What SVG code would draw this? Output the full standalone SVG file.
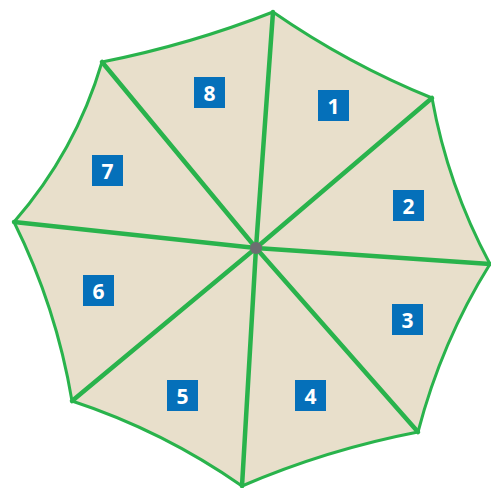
<svg xmlns="http://www.w3.org/2000/svg" width="491" height="488" viewBox="0 0 491 488">
<style>
.outline{fill:#e8dfcb;stroke:#29b34c;stroke-width:3;stroke-linejoin:miter}
.spoke{stroke:#29b34c;stroke-width:4.5;stroke-linecap:round;fill:none}
.box{fill:#0570ba}
.lbl{fill:#fff;font-family:"Open Sans","DejaVu Sans",sans-serif;font-weight:bold;font-size:21px;text-anchor:middle;dominant-baseline:central}
</style>
<g id="shape">
<path class="outline" d="M273,12 Q348,64 432,98 Q447.7,185.3 490,264 Q441.5,341.7 418,432 Q326.7,449.6 242,486 Q163.3,431 72,401 Q56.4,307.5 14,222 Q75.6,151.4 102,62 Q190,44.6 273,12 Z"/>
</g>
<g id="connectors">
<line class="spoke" x1="256" y1="248" x2="273" y2="12"/>
<line class="spoke" x1="256" y1="248" x2="432" y2="98"/>
<line class="spoke" x1="256" y1="248" x2="490" y2="264"/>
<line class="spoke" x1="256" y1="248" x2="418" y2="432"/>
<line class="spoke" x1="256" y1="248" x2="242" y2="486"/>
<line class="spoke" x1="256" y1="248" x2="72" y2="401"/>
<line class="spoke" x1="256" y1="248" x2="14" y2="222"/>
<line class="spoke" x1="256" y1="248" x2="102" y2="62"/>
</g>
<g id="hub"><circle cx="256" cy="248" r="6" fill="#6d6e71"/></g>
<g id="n1"><rect class="box" x="318" y="90" width="31" height="31"/><text class="lbl" x="333.5" y="106">1</text></g>
<g id="n2"><rect class="box" x="393" y="190" width="31" height="31"/><text class="lbl" x="408.5" y="206">2</text></g>
<g id="n3"><rect class="box" x="392" y="304" width="31" height="31"/><text class="lbl" x="407.5" y="320">3</text></g>
<g id="n4"><rect class="box" x="295" y="380" width="31" height="31"/><text class="lbl" x="310.5" y="396">4</text></g>
<g id="n5"><rect class="box" x="167" y="380" width="31" height="31"/><text class="lbl" x="182.5" y="396">5</text></g>
<g id="n6"><rect class="box" x="83" y="275" width="31" height="31"/><text class="lbl" x="98.5" y="291">6</text></g>
<g id="n7"><rect class="box" x="92" y="155" width="31" height="31"/><text class="lbl" x="107.5" y="171">7</text></g>
<g id="n8"><rect class="box" x="194" y="77" width="31" height="31"/><text class="lbl" x="209.5" y="93">8</text></g>
</svg>
